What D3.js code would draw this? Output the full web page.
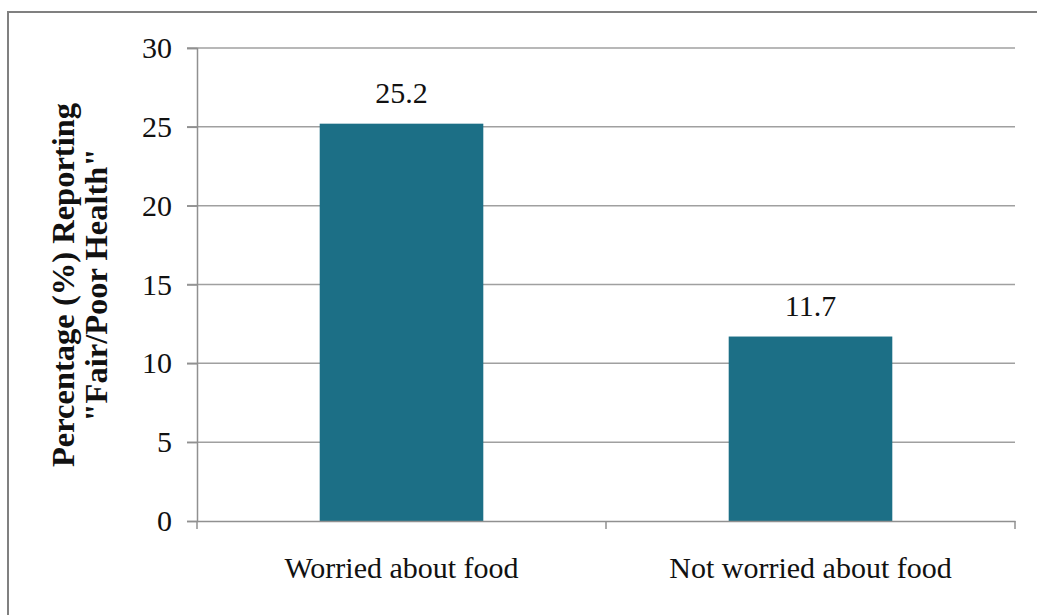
<!DOCTYPE html>
<html><head><meta charset="utf-8">
<script src="https://cdn.jsdelivr.net/npm/d3@7"></script>
<style>body{margin:0;background:#fff}svg{display:block}</style>
</head><body>
<svg id="c" width="1037" height="615"></svg>
<script>
const categories = ["Worried about food", "Not worried about food"];
const values = [25.2, 11.7];
const yTicks = [0, 5, 10, 15, 20, 25, 30];
const yTitle = ["Percentage (%) Reporting", "\"Fair/Poor Health\""];

const svg = d3.select("#c");
const W = 1037, H = 615;
const m = {left: 197, right: 1015, top: 48, bottom: 521};
const font = "Liberation Serif, Times New Roman, serif";

// outer frame
svg.append("rect").attr("x", 8).attr("y", 12).attr("width", W + 20).attr("height", H + 20)
  .attr("fill", "#fff").attr("stroke", "#808080").attr("stroke-width", 2);

const x = d3.scaleBand().domain(categories).range([m.left, m.right]).padding(0);
const y = d3.scaleLinear().domain([0, 30]).range([m.bottom, m.top]);

// gridlines
svg.append("g").selectAll("line").data(yTicks.filter(d => d > 0)).join("line")
  .attr("x1", m.left - 10).attr("x2", m.right)
  .attr("y1", d => y(d)).attr("y2", d => y(d))
  .attr("stroke", "#a0a0a0").attr("stroke-width", 1.5);

// y axis
const ya = svg.append("g").attr("transform", `translate(${m.left},0)`)
  .call(d3.axisLeft(y).tickValues(yTicks).tickSize(10).tickPadding(15));
ya.attr("font-family", font).attr("font-size", 30);
ya.select(".domain").attr("stroke", "#909090").attr("stroke-width", 1.5);
ya.selectAll(".tick line").attr("stroke", "#909090").attr("stroke-width", 1.5);
ya.selectAll(".tick text").style("font-family", font).style("font-size", "30px").attr("fill", "#111");

// bars
const bw = x.bandwidth() * 0.4;
svg.append("g").selectAll("rect").data(values).join("rect")
  .attr("x", (d, i) => x(categories[i]) + (x.bandwidth() - bw) / 2)
  .attr("width", bw)
  .attr("y", d => y(d))
  .attr("height", d => y(0) - y(d))
  .attr("fill", "#1c6f86");

// x axis
const xa = svg.append("g").attr("transform", `translate(0,${m.bottom})`)
  .call(d3.axisBottom(x).tickSize(0).tickPadding(0));
xa.attr("font-family", font).attr("font-size", 30);
xa.select(".domain").attr("stroke", "#909090").attr("stroke-width", 1.5);
xa.selectAll(".tick text").style("font-family", font).style("font-size", "30px").attr("fill", "#111")
  .attr("y", 57).attr("dy", 0);
// category boundary ticks
const bounds = [m.left, m.left + x.step(), m.right];
svg.append("g").selectAll("line").data(bounds).join("line")
  .attr("x1", d => d).attr("x2", d => d).attr("y1", m.bottom).attr("y2", m.bottom + 8)
  .attr("stroke", "#909090").attr("stroke-width", 1.5);

// value labels
svg.append("g").selectAll("text").data(values).join("text")
  .attr("x", (d, i) => x(categories[i]) + x.bandwidth() / 2)
  .attr("y", d => y(d) - 21)
  .attr("text-anchor", "middle")
  .style("font-family", font).style("font-size", "30px").attr("fill", "#111")
  .text(d => d.toFixed(1));

// y title
const yt = svg.append("text")
  .attr("transform", `translate(${74},${285}) rotate(-90)`)
  .attr("text-anchor", "middle")
  .style("font-family", font).style("font-weight", "bold").style("font-size", "32.5px")
  .attr("fill", "#111");
yt.selectAll("tspan").data(yTitle).join("tspan")
  .attr("x", 0).attr("dy", (d, i) => i === 0 ? 0 : 33).text(d => d);
</script>
</body></html>
